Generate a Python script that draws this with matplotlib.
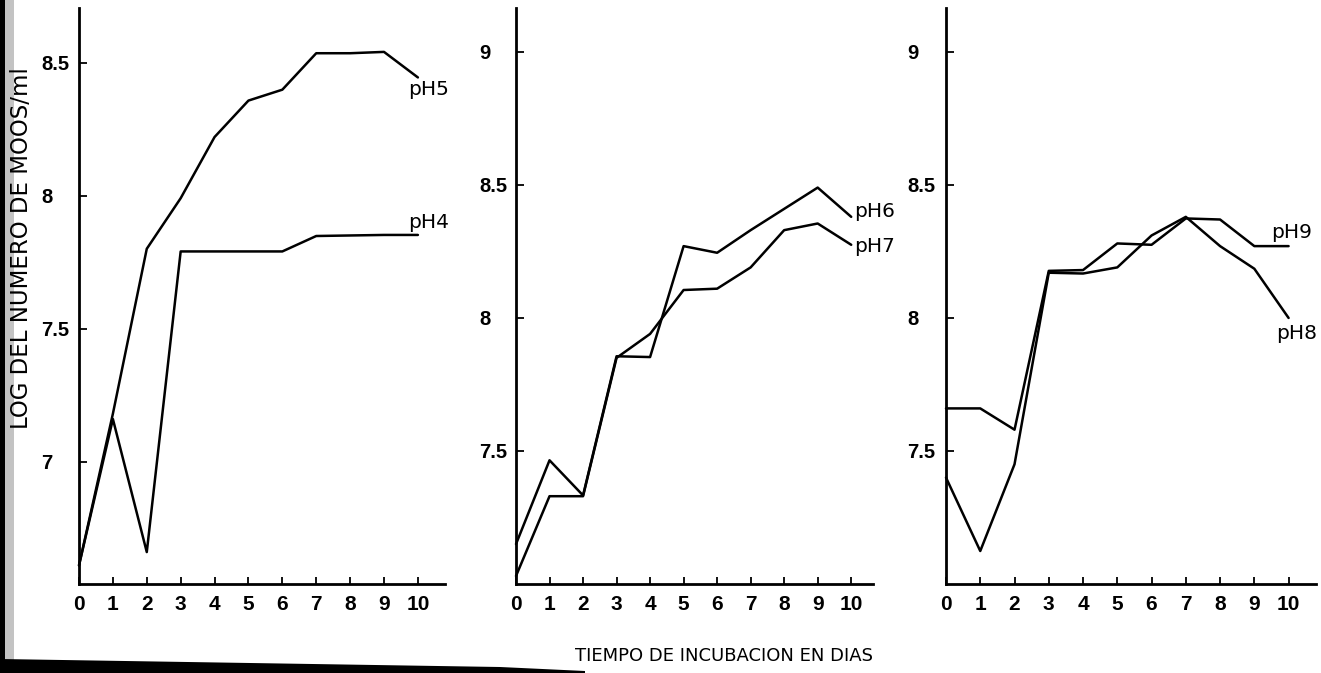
import matplotlib
matplotlib.use("Agg")
import matplotlib.pyplot as plt
from matplotlib import font_manager as fm
from matplotlib.patches import Polygon, Rectangle

# Incubation days shared by all panels
days = [0, 1, 2, 3, 4, 5, 6, 7, 8, 9, 10]

# log of cell number per ml, one list per pH
ph4 = [6.61, 7.16, 6.66, 7.79, 7.79, 7.79, 7.79, 7.848, 7.85, 7.852, 7.852]
ph5 = [6.61, 7.18, 7.80, 7.99, 8.22, 8.357, 8.398, 8.535, 8.535, 8.54, 8.444]
ph6 = [7.15, 7.465, 7.333, 7.856, 7.853, 8.27, 8.245, 8.33, 8.41, 8.49, 8.38]
ph7 = [7.03, 7.33, 7.33, 7.85, 7.94, 8.105, 8.11, 8.19, 8.33, 8.355, 8.275]
ph8 = [7.40, 7.124, 7.45, 8.17, 8.167, 8.19, 8.31, 8.38, 8.27, 8.185, 8.0]
ph9 = [7.66, 7.66, 7.58, 8.177, 8.18, 8.28, 8.275, 8.374, 8.37, 8.27, 8.27]

yticks_low = [7, 7.5, 8, 8.5]
yticks_high = [7.5, 8, 8.5, 9]
ylabels_low = ["7", "7.5", "8", "8.5"]
ylabels_high = ["7.5", "8", "8.5", "9"]

ylabel_text = "LOG DEL NUMERO DE MOOS/ml"
xlabel_text = "TIEMPO DE INCUBACION EN DIAS"

names = {f.name for f in fm.fontManager.ttflist}
num_family = "Liberation Sans" if "Liberation Sans" in names else "DejaVu Sans"
ytick_font = fm.FontProperties(family=num_family, weight="bold", size=14.5)
xtick_font = fm.FontProperties(family=num_family, weight="bold", size=15)

W, H = 1321, 673
fig = plt.figure(figsize=(W / 100, H / 100), dpi=100)
fig.patch.set_facecolor("white")

bottom_px, top_px = 584, 8
ax_b = (H - bottom_px) / H
ax_h = (bottom_px - top_px) / H

panels = [
    dict(left=79, right=445, xmax=10.8, ylim=(6.54, 8.705), ticks=yticks_low, tl=ylabels_low,
         pad=27,
         series=[(ph5, "pH5", 9.7, 8.40), (ph4, "pH4", 9.7, 7.90)]),
    dict(left=516, right=873, xmax=10.65, ylim=(7.0, 9.165), ticks=yticks_high, tl=ylabels_high,
         pad=26.5,
         series=[(ph6, "pH6", 10.08, 8.40), (ph7, "pH7", 10.08, 8.27)]),
    dict(left=946, right=1316, xmax=10.8, ylim=(7.0, 9.165), ticks=yticks_high, tl=ylabels_high,
         pad=28,
         series=[(ph9, "pH9", 9.5, 8.32), (ph8, "pH8", 9.64, 7.94)]),
]

for p in panels:
    ax = fig.add_axes([p["left"] / W, ax_b, (p["right"] - p["left"]) / W, ax_h])
    ax.set_xlim(0, p["xmax"])
    ax.set_ylim(*p["ylim"])
    for s in ("top", "right"):
        ax.spines[s].set_visible(False)
    for s in ("left", "bottom"):
        ax.spines[s].set_linewidth(2.0)
        ax.spines[s].set_color("black")
    ax.set_xticks(days)
    ax.set_xticklabels([str(d) for d in days], fontproperties=xtick_font)
    ax.set_yticks(p["ticks"])
    ax.set_yticklabels(p["tl"], fontproperties=ytick_font)
    ax.tick_params(axis="x", direction="in", length=5, width=1.3, pad=8)
    ax.tick_params(axis="y", direction="in", length=6, width=1.3, pad=p["pad"])
    for lab in ax.get_yticklabels():
        lab.set_horizontalalignment("left")
    for vals, name, lx, ly in p["series"]:
        ax.plot(days, vals, color="black", lw=1.8, solid_joinstyle="round",
                solid_capstyle="round", clip_on=False)
        ax.text(lx, ly, name, fontsize=14.5, ha="left", va="center", color="black")

fig.text(21.5 / W, 1 - 248 / H, ylabel_text, rotation=90, ha="center", va="center",
         fontsize=16.5, color="black")
fig.text(724 / W, 1 - 656 / H, xlabel_text, ha="center", va="center",
         fontsize=13, color="black")

# dark scan edge on the left and the smear along the lower left
fig.patches.append(Rectangle((0, 0), 5 / W, 1, transform=fig.transFigure,
                             facecolor="black", edgecolor="none"))
fig.patches.append(Rectangle((5 / W, 0), 9 / W, 1, transform=fig.transFigure,
                             facecolor="#6a6a6a", edgecolor="none", alpha=0.4))
smear = [(0, 659), (250, 663), (500, 667), (585, 671), (585, 673), (0, 673)]
fig.patches.append(Polygon([(x / W, 1 - y / H) for x, y in smear], closed=True,
                           transform=fig.transFigure, facecolor="black", edgecolor="none"))

fig.savefig("out.png", dpi=100, facecolor="white")
